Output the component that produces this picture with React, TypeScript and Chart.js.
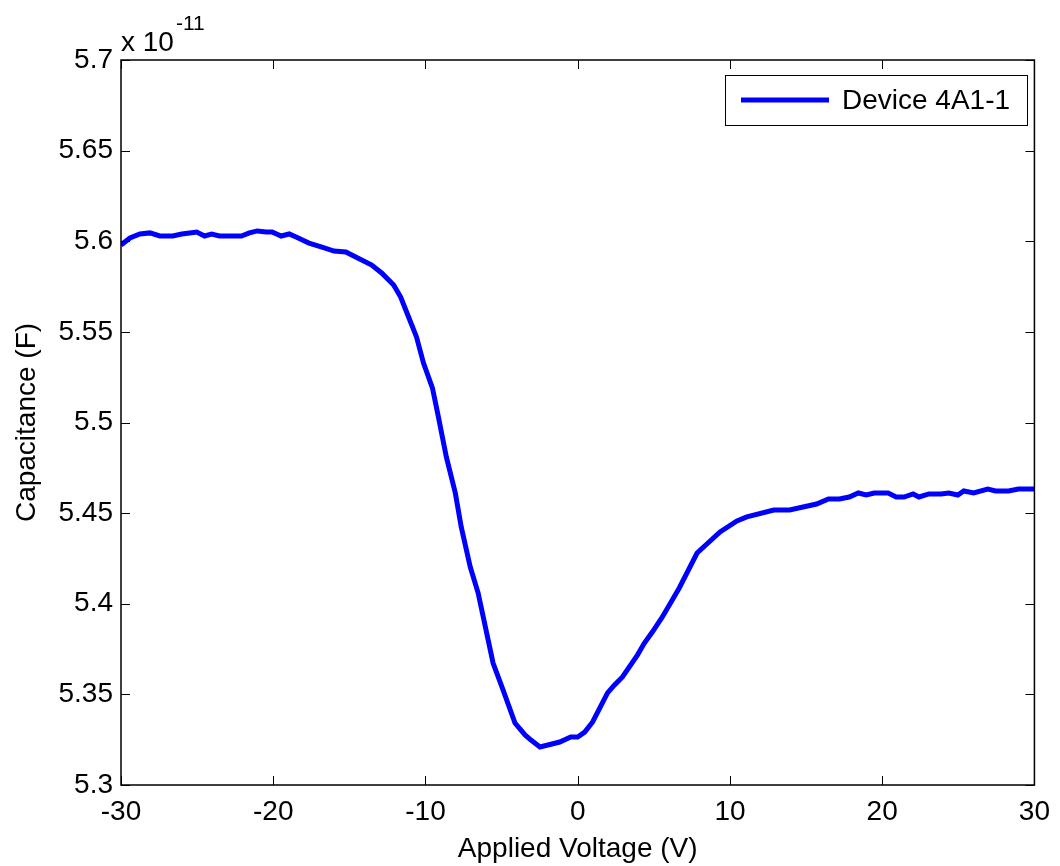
import { useEffect, useRef } from "react";
import { Chart, registerables } from "chart.js";

Chart.register(...registerables);

// Applied voltage (V)
const voltage = [
  -30.0, -29.41, -28.76, -28.1, -27.45, -26.6, -26.01, -25.49, -25.03, -24.51,
  -24.05, -23.53, -22.09, -21.57, -21.05, -20.46, -20.07, -19.48, -18.95, -18.5,
  -17.65, -16.8, -16.01, -15.23, -14.58, -13.53, -12.88, -12.09, -11.63, -11.11,
  -10.59, -10.13, -9.54, -9.15, -8.63, -8.04, -7.65, -7.06, -6.54, -5.56,
  -4.9, -4.12, -3.46, -3.07, -2.48, -1.18, -0.46, 0.0, 0.46, 0.98,
  1.96, 2.42, 2.94, 3.92, 4.38, 4.9, 5.56, 6.67, 7.84, 9.35,
  10.46, 11.11, 12.88, 13.92, 15.69, 16.47, 17.19, 17.84, 18.43, 18.95,
  19.48, 20.39, 20.92, 21.44, 22.03, 22.42, 23.07, 23.86, 24.38, 24.97,
  25.36, 26.01, 26.93, 27.45, 28.3, 28.95, 29.93, 30.0,
];

// Capacitance (x 1e-11 F)
const capacitance = [
  5.5979, 5.6018, 5.604, 5.6046, 5.6029, 5.6029, 5.604, 5.6046, 5.6051, 5.6029,
  5.604, 5.6029, 5.6029, 5.6046, 5.6057, 5.6051, 5.6051, 5.6029, 5.604, 5.6023,
  5.599, 5.5968, 5.5946, 5.5941, 5.5913, 5.5869, 5.5825, 5.5759, 5.5692, 5.5582,
  5.5472, 5.5328, 5.519, 5.503, 5.481, 5.4611, 5.4423, 5.4203, 5.4059, 5.3673,
  5.3524, 5.3342, 5.3276, 5.3248, 5.321, 5.3237, 5.3265, 5.3265, 5.3292, 5.3348,
  5.3508, 5.3552, 5.3596, 5.3717, 5.3783, 5.3844, 5.3927, 5.4087, 5.428, 5.4396,
  5.4457, 5.4479, 5.4517, 5.4517, 5.455, 5.4578, 5.4578, 5.4589, 5.4611, 5.46,
  5.4611, 5.4611, 5.4589, 5.4589, 5.4606, 5.4589, 5.4606, 5.4606, 5.4611, 5.46,
  5.4622, 5.4611, 5.4633, 5.4622, 5.4622, 5.4633, 5.4633, 5.4633,
];

const xTickValues = [-30, -20, -10, 0, 10, 20, 30];
const xTickLabels = ["-30", "-20", "-10", "0", "10", "20", "30"];
const yTickValues = [5.3, 5.35, 5.4, 5.45, 5.5, 5.55, 5.6, 5.65, 5.7];
const yTickLabels = ["5.3", "5.35", "5.4", "5.45", "5.5", "5.55", "5.6", "5.65", "5.7"];

const seriesLabel = "Device 4A1-1";
const xTitle = "Applied Voltage (V)";
const yTitle = "Capacitance (F)";
const exponentBase = "x 10";
const exponentPower = "-11";

const FONT = '"Liberation Sans", Arial, Helvetica, sans-serif';

const matlabFrame = {
  id: "matlabFrame",
  afterDraw(chart: any) {
    const { ctx, chartArea, scales } = chart;
    const { left, right, top, bottom } = chartArea;
    const xs = scales.x;
    const ys = scales.y;
    ctx.save();
    ctx.strokeStyle = "#000";
    ctx.lineWidth = 1;
    const tl = 9;
    xTickValues.forEach((v) => {
      const px = Math.round(xs.getPixelForValue(v)) + 0.5;
      ctx.beginPath();
      ctx.moveTo(px, bottom);
      ctx.lineTo(px, bottom - tl);
      ctx.moveTo(px, top);
      ctx.lineTo(px, top + tl);
      ctx.stroke();
    });
    yTickValues.forEach((v) => {
      const py = Math.round(ys.getPixelForValue(v)) + 0.5;
      ctx.beginPath();
      ctx.moveTo(left, py);
      ctx.lineTo(left + tl, py);
      ctx.moveTo(right, py);
      ctx.lineTo(right - tl, py);
      ctx.stroke();
    });
    ctx.lineWidth = 1.5;
    ctx.strokeRect(left, top, right - left, bottom - top);

    // exponent label
    ctx.fillStyle = "#000";
    ctx.textBaseline = "alphabetic";
    ctx.textAlign = "left";
    ctx.font = `28px ${FONT}`;
    ctx.fillText(exponentBase, left, 51);
    const w = ctx.measureText(exponentBase).width;
    ctx.font = `21px ${FONT}`;
    ctx.fillText(exponentPower, left + w + 2, 30);

    // legend
    const lx = 725, ly = 75, lw = 302, lh = 50;
    ctx.fillStyle = "#fff";
    ctx.fillRect(lx, ly, lw, lh);
    ctx.strokeStyle = "#000";
    ctx.lineWidth = 1;
    ctx.strokeRect(lx + 0.5, ly + 0.5, lw, lh);
    ctx.strokeStyle = "#0000ff";
    ctx.lineWidth = 5;
    ctx.beginPath();
    ctx.moveTo(741, ly + lh / 2);
    ctx.lineTo(829, ly + lh / 2);
    ctx.stroke();
    ctx.fillStyle = "#000";
    ctx.font = `28px ${FONT}`;
    ctx.textBaseline = "middle";
    ctx.fillText(seriesLabel, 842, ly + lh / 2 + 1);
    ctx.restore();
  },
};

export default function App() {
  const ref = useRef<HTMLCanvasElement | null>(null);
  useEffect(() => {
    if (!ref.current) return;
    const points = voltage.map((v, i) => ({ x: v, y: capacitance[i] }));
    const chart = new Chart(ref.current, {
      type: "line",
      data: {
        datasets: [
          {
            label: seriesLabel,
            data: points,
            borderColor: "#0000ff",
            borderWidth: 5,
            pointRadius: 0,
            tension: 0,
            fill: false,
          },
        ],
      },
      options: {
        animation: false,
        responsive: false,
        maintainAspectRatio: false,
        layout: { padding: { left: 0, top: 60, right: 21, bottom: 0 } },
        plugins: { legend: { display: false }, tooltip: { enabled: false } },
        scales: {
          x: {
            type: "linear",
            min: -30,
            max: 30,
            afterBuildTicks: (s: any) => {
              s.ticks = xTickValues.map((v) => ({ value: v }));
            },
            afterFit: (s: any) => {
              s.height = 81;
            },
            ticks: {
              color: "#000",
              font: { family: FONT, size: 28 },
              padding: 10,
              maxRotation: 0,
              autoSkip: false,
              callback: (v: any) => {
                const i = xTickValues.indexOf(Number(v));
                return i >= 0 ? xTickLabels[i] : "";
              },
            },
            grid: { display: false, drawTicks: false },
            border: { display: false },
            title: {
              display: true,
              text: xTitle,
              color: "#000",
              font: { family: FONT, size: 28 },
              padding: { top: 0, bottom: 0 },
            },
          },
          y: {
            type: "linear",
            min: 5.3,
            max: 5.7,
            afterBuildTicks: (s: any) => {
              s.ticks = yTickValues.map((v) => ({ value: v }));
            },
            afterFit: (s: any) => {
              s.width = 121;
            },
            ticks: {
              color: "#000",
              font: { family: FONT, size: 28 },
              padding: 8,
              autoSkip: false,
              callback: (v: any) => {
                const i = yTickValues.findIndex((t) => Math.abs(t - Number(v)) < 1e-6);
                return i >= 0 ? yTickLabels[i] : "";
              },
            },
            grid: { display: false, drawTicks: false },
            border: { display: false },
            title: {
              display: true,
              text: yTitle,
              color: "#000",
              font: { family: FONT, size: 28 },
              padding: { top: 10, bottom: 0 },
            },
          },
        },
      },
      plugins: [matlabFrame],
    });
    return () => chart.destroy();
  }, []);
  return (
    <div style={{ position: "absolute", left: 0, top: 0, width: 1060, height: 866, background: "#fff" }}>
      <canvas ref={ref} width={1060} height={866} style={{ display: "block" }} />
    </div>
  );
}
